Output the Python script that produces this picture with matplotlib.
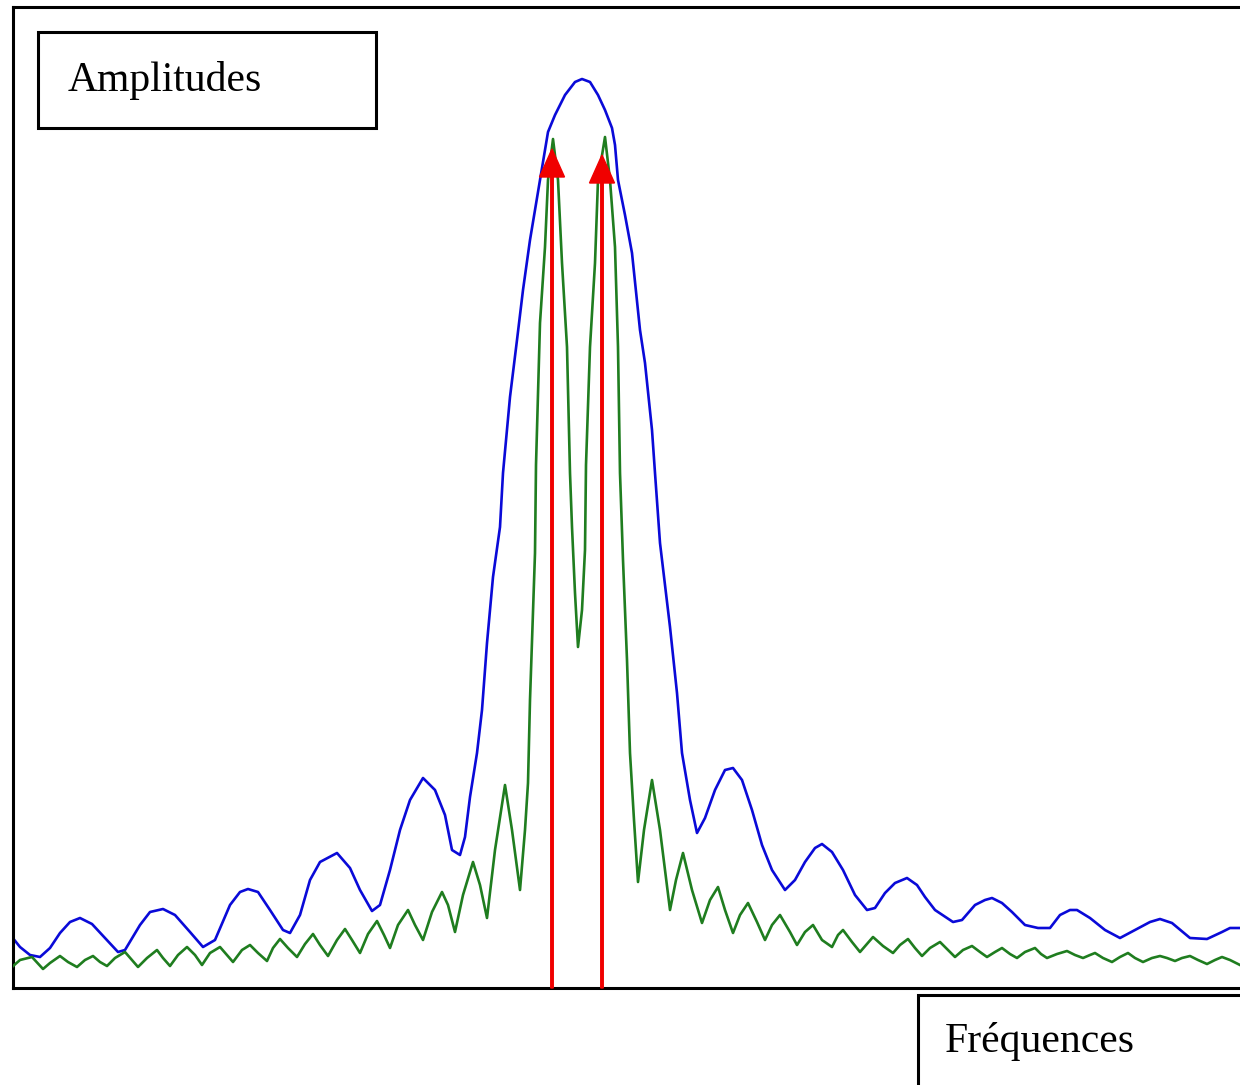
import numpy as np
import matplotlib
matplotlib.use("Agg")
import matplotlib.pyplot as plt
from matplotlib.patches import Rectangle

# Values (x = frequency position, rows = distance from top, in px)
BASE = 988

blue_x = [12, 20, 30, 40, 50, 60, 70, 80, 92, 105, 118, 125, 140, 150, 163, 175, 190, 203,
          215, 230, 240, 248, 258, 270, 283, 290, 300, 310, 320, 337, 350, 360, 372, 380,
          390, 400, 410, 423, 435, 445, 452, 460, 465, 470, 477, 482, 487, 493, 500, 503,
          510, 517, 523, 530, 540, 548, 555, 565, 575, 582, 590, 598, 605, 612, 615, 618,
          625, 632, 640, 645, 652, 655, 660, 670, 677, 682, 690, 697, 705, 715,
          725, 733, 742, 752, 762, 772, 785, 795, 805, 815, 822, 832, 843, 855, 867, 875,
          885, 895, 907, 917, 925, 935, 953, 962, 975, 985, 992, 1002, 1012, 1025, 1038,
          1050, 1060, 1070, 1077, 1090, 1105, 1120, 1135, 1150, 1160, 1172, 1190, 1207,
          1222, 1230, 1240]
blue_rows = [937, 947, 955, 957, 948, 933, 922, 918, 924, 938, 952, 950, 925, 912, 909, 915, 932, 947,
             940, 905, 892, 889, 892, 910, 930, 933, 915, 880, 862, 853, 868, 890, 911, 905,
             870, 830, 800, 778, 790, 815, 850, 855, 837, 797, 753, 710, 643, 577, 527, 473,
             397, 340, 290, 240, 180, 132, 115, 95, 82, 79, 82, 95, 110, 128, 145, 180,
             215, 253, 330, 363, 430, 473, 543, 627, 693, 753, 800, 833, 818, 790,
             770, 768, 780, 810, 845, 870, 890, 880, 862, 848, 844, 852, 870, 895, 910, 908,
             893, 883, 878, 885, 897, 910, 922, 920, 905, 900, 898, 903, 912, 925, 928,
             928, 915, 910, 910, 918, 930, 938, 930, 922, 919, 923, 938, 939,
             932, 928, 928]

green_x = [12, 20, 32, 43, 50, 60, 68, 77, 85, 93, 100, 107, 115, 125, 132, 138, 147, 157, 163,
           170, 178, 187, 195, 202, 210, 220, 227, 233, 242, 250, 258, 267, 273, 280, 288,
           297, 305, 313, 320, 328, 337, 345, 352, 360, 368, 377, 384, 390, 398, 408, 415,
           423, 432, 442, 448, 455, 463, 473, 480, 487, 495, 505, 512, 520, 525, 528, 530,
           535, 536, 540, 545, 548, 553, 558, 562, 567, 570, 572, 575, 578,
           582, 585, 586, 590, 595, 598, 605, 610, 615, 618, 620, 623, 627, 630, 634, 638, 644,
           652, 660, 670, 676, 683, 692, 702, 710, 718, 725, 733, 740, 748, 757, 765, 772,
           780, 790, 797, 805, 813, 822, 832, 838, 843, 852, 860, 866, 873, 883, 893, 900,
           908, 915, 922, 930, 940, 948, 955, 963, 972, 980, 987, 995, 1002, 1010, 1017,
           1025, 1035, 1041, 1047, 1057, 1067, 1075, 1083, 1090, 1095, 1103, 1112, 1120,
           1128, 1135, 1143, 1152, 1160, 1167, 1175, 1182, 1190, 1198, 1207, 1215, 1222,
           1230, 1240]
green_rows = [967, 960, 957, 969, 963, 956, 962, 967, 960, 956, 962, 966, 958, 952, 960, 967, 958, 950, 958,
              966, 955, 947, 955, 965, 953, 947, 955, 962, 950, 945, 953, 961, 948, 939, 948,
              957, 944, 934, 945, 956, 940, 929, 940, 953, 934, 921, 935, 948, 925, 910, 925,
              940, 912, 892, 905, 932, 895, 862, 885, 918, 850, 785, 830, 890, 830, 783, 700,
              553, 465, 323, 247, 180, 139, 180, 263, 347, 473, 527, 593, 647,
              610, 550, 465, 347, 263, 180, 137, 180, 247, 347, 473, 560, 660, 753, 820, 882, 830,
              780, 830, 910, 880, 853, 890, 923, 900, 887, 910, 933, 915, 903, 922, 940, 925,
              915, 932, 945, 932, 925, 940, 947, 935, 930, 942, 952, 945, 937, 946, 953, 945,
              939, 948, 956, 948, 942, 950, 957, 950, 946, 952, 957, 952, 948, 954, 958,
              952, 948, 954, 958, 954, 951, 955, 958, 955, 953, 958, 962, 957,
              953, 958, 962, 958, 956, 958, 961, 958, 956, 960, 964, 960, 957,
              960, 965]

arrow_x = [552, 602]
arrow_tip_rows = [149, 155]

blue_amp = BASE - np.array(blue_rows)
green_amp = BASE - np.array(green_rows)
arrow_top = BASE - np.array(arrow_tip_rows)

W, H = 1240, 1085
fig = plt.figure(figsize=(12.4, 10.85), dpi=100)
fig.patch.set_facecolor('white')

# axes box: left 13 px, top 7 px, bottom 988 px; right side runs off the picture
ax = fig.add_axes([13 / W, (H - BASE) / H, (W - 13) / W, (BASE - 7) / H])
ax.set_xlim(13, 1240)
ax.set_ylim(0, BASE - 7)
ax.set_xticks([])
ax.set_yticks([])
for side in ['left', 'top', 'bottom']:
    ax.spines[side].set_linewidth(2.2)
    ax.spines[side].set_color('black')
ax.spines['right'].set_visible(False)

ax.plot(blue_x, blue_amp, color='#0a0ad8', lw=1.9, solid_joinstyle='round', zorder=2)
ax.plot(green_x, green_amp, color='#1f7d1f', lw=1.9, solid_joinstyle='round', zorder=3)

for x, top in zip(arrow_x, arrow_top):
    ax.arrow(x, 0, 0, top, width=2.5, head_width=25, head_length=28,
             length_includes_head=True, color='#f00000', zorder=4, clip_on=False)

# label boxes
serif = ['Liberation Serif', 'DejaVu Serif']
fig.patches.append(Rectangle((38 / W, 1 - 128 / H), 338 / W, 96 / H, transform=fig.transFigure,
                             fill=False, lw=2.2, ec='black'))
fig.text(68 / W, 1 - 91 / H, 'Amplitudes', family=serif, fontsize=30, va='baseline', ha='left')

fig.patches.append(Rectangle((918 / W, -0.05), 0.3, (H - 995) / H + 0.05, transform=fig.transFigure,
                             fill=False, lw=2.2, ec='black', clip_on=False))
fig.text(945 / W, 1 - 1052 / H, 'Fréquences', family=serif, fontsize=30, va='baseline', ha='left')

fig.savefig('out.png', dpi=100)
